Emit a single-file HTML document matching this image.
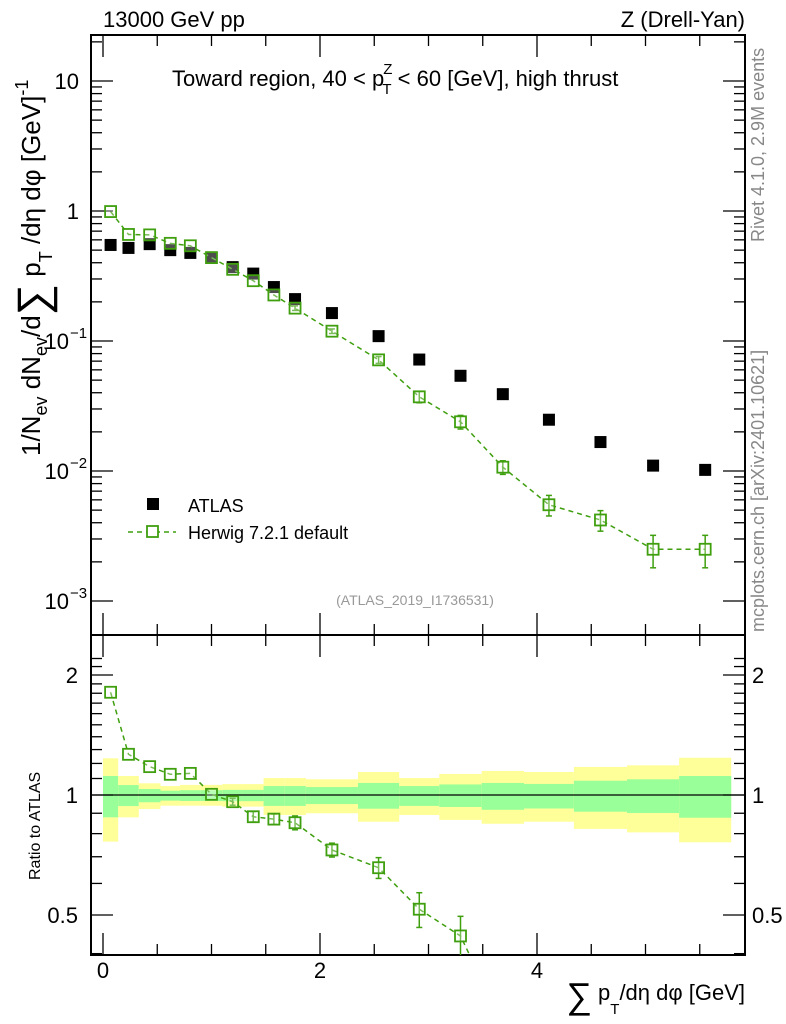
<!DOCTYPE html>
<html><head><meta charset="utf-8"><style>
body{margin:0;background:#fff;}
svg{display:block;font-family:"Liberation Sans",sans-serif;}
</style></head><body>
<svg id="c" width="786" height="1024" xmlns="http://www.w3.org/2000/svg"></svg>
<script>
const binEdges=[0,0.14,0.33,0.53,0.71,0.9,1.1,1.29,1.48,1.67,1.87,2.35,2.73,3.1,3.49,3.88,4.34,4.83,5.31,5.79];
const atlasVals=[0.548,0.52,0.556,0.50,0.476,0.436,0.37,0.33,0.26,0.21,0.164,0.109,0.072,0.054,0.039,0.0248,0.0167,0.011,0.0102];
const herwigVals=[0.99,0.66,0.655,0.564,0.54,0.438,0.356,0.291,0.226,0.179,0.119,0.0716,0.0372,0.0239,0.0107,0.0055,0.0042,0.0025,0.0025];
const herwigRelErr=[0.01,0.01,0.01,0.01,0.01,0.01,0.02,0.03,0.03,0.04,0.04,0.06,0.1,0.12,0.12,0.18,0.18,0.28,0.28];
const ratioVals=[1.81,1.265,1.178,1.127,1.133,1.004,0.962,0.882,0.87,0.852,0.728,0.657,0.517,0.443];
const yellowHi=[1.236,1.116,1.07,1.053,1.06,1.06,1.065,1.065,1.103,1.103,1.095,1.142,1.103,1.129,1.149,1.142,1.176,1.187,1.24];
const yellowLo=[0.764,0.879,0.922,0.94,0.94,0.94,0.935,0.935,0.891,0.891,0.9,0.857,0.891,0.866,0.847,0.857,0.822,0.806,0.761];
const greenHi=[1.116,1.059,1.035,1.025,1.028,1.028,1.03,1.03,1.053,1.053,1.047,1.072,1.053,1.063,1.072,1.066,1.086,1.095,1.116];
const greenLo=[0.879,0.938,0.959,0.968,0.966,0.966,0.965,0.965,0.939,0.939,0.949,0.924,0.939,0.933,0.918,0.925,0.908,0.901,0.877];
const xTickLabels=["0","2","4"];

const svg=document.getElementById('c');
const NS="http://www.w3.org/2000/svg";
function el(tag,attrs,parent){const e=document.createElementNS(NS,tag);for(const k in attrs)e.setAttribute(k,attrs[k]);(parent||svg).appendChild(e);return e;}
const L=91,R=745,T=35,MB=635,RB=955;
const X=v=>103+v*108.5;
const Y=v=>211-130*Math.log10(v);
const YR=v=>795-120*Math.log2(v);
const mids=binEdges.slice(0,-1).map((e,i)=>(e+binEdges[i+1])/2);

const bands=el('g',{});


for(let i=0;i<yellowHi.length;i++){
  const r=el('rect',{x:X(binEdges[i]),y:YR(yellowHi[i]),width:X(binEdges[i+1])-X(binEdges[i]),height:YR(yellowLo[i])-YR(yellowHi[i]),fill:'#ffff99'},bands);
  
  
  const g=el('rect',{x:X(binEdges[i]),y:YR(greenHi[i]),width:X(binEdges[i+1])-X(binEdges[i]),height:YR(greenLo[i])-YR(greenHi[i]),fill:'#99ff99'},bands);
  
  
}
el('line',{x1:L,x2:R,y1:YR(1),y2:YR(1),stroke:'#000','stroke-width':1.3});

const f1=el('rect',{x:L,y:T,width:R-L,height:MB-T,fill:'none',stroke:'#000','stroke-width':2});

const f2=el('rect',{x:L,y:MB,width:R-L,height:RB-MB,fill:'none',stroke:'#000','stroke-width':2});


for(let d=-3;d<=1;d++){
  for(let m=1;m<10;m++){
    const v=m*Math.pow(10,d);const y=Y(v);
    if(y<T||y>MB)continue;
    const len=m==1?22:11;
    el('line',{x1:L,x2:L+len,y1:y,y2:y,stroke:'#000','stroke-width':1.3});
    el('line',{x1:R,x2:R-len,y1:y,y2:y,stroke:'#000','stroke-width':1.3});
  }
}
[[10,"10",null],[1,"1",null],[0.1,"10","−1"],[0.01,"10","−2"],[0.001,"10","−3"]].forEach(([v,t,e])=>{
  const tx=el('text',{x:e?69:79,y:Y(v)+8,'font-size':22,'text-anchor':'end'});
  tx.textContent=t;
  
  if(e){const s=el('text',{x:70,y:Y(v)-3,'font-size':15});s.textContent=e;}
});
for(let v=0.4;v<=2.3;v+=0.1){
  const y=YR(v);if(y<MB||y>RB)continue;
  const major=Math.abs(v-0.5)<1e-6||Math.abs(v-1)<1e-6||Math.abs(v-2)<1e-6;
  const len=major?22:11;
  el('line',{x1:L,x2:L+len,y1:y,y2:y,stroke:'#000','stroke-width':1.3});
  el('line',{x1:R,x2:R-len,y1:y,y2:y,stroke:'#000','stroke-width':1.3});
}
[[2,"2"],[1,"1"],[0.5,"0.5"]].forEach(([v,t])=>{
  const a=el('text',{x:78,y:YR(v)+8,'font-size':22,'text-anchor':'end'});a.textContent=t;
  
  const b=el('text',{x:752,y:YR(v)+8,'font-size':22});b.textContent=t;
  
});
for(let v=0;v<=5.9;v+=0.5){
  const x=X(v);const major=Math.abs(v%2)<1e-6;const len=major?22:11;
  [[MB,1],[T,-1],[RB,1],[MB,-1]].forEach(([yb,dir])=>{
    el('line',{x1:x,x2:x,y1:yb,y2:yb-dir*len,stroke:'#000','stroke-width':1.3});
  });
}
xTickLabels.forEach((t,i)=>{
  const tx=el('text',{x:X(i*2),y:978,'font-size':22,'text-anchor':'middle'});tx.textContent=t;
  
});

atlasVals.forEach((v,i)=>{
  const r=el('rect',{x:X(mids[i])-6,y:Y(v)-6,width:12,height:12,fill:'#000'});
  
});
const G='#3f9f0f';
el('polyline',{points:herwigVals.map((v,i)=>X(mids[i])+','+Y(v)).join(' '),fill:'none',stroke:G,'stroke-width':1.5,'stroke-dasharray':'5,4'});
herwigVals.forEach((v,i)=>{
  const x=X(mids[i]),y=Y(v);
  const e=herwigRelErr[i];
  if(e>0.03){el('line',{x1:x,x2:x,y1:Y(v*(1+e)),y2:Y(v*(1-e)),stroke:G,'stroke-width':1.5});
   el('line',{x1:x-3,x2:x+3,y1:Y(v*(1+e)),y2:Y(v*(1+e)),stroke:G,'stroke-width':1.5});
   el('line',{x1:x-3,x2:x+3,y1:Y(v*(1-e)),y2:Y(v*(1-e)),stroke:G,'stroke-width':1.5});}
  const r=el('rect',{x:x-5.5,y:y-5.5,width:11,height:11,fill:'#fff','fill-opacity':0.3,stroke:G,'stroke-width':1.8});
  
});
const rp=ratioVals.map((v,i)=>X(mids[i])+','+YR(v));
rp.push(X(mids[14])+','+YR(ratioVals[13]*0.6));
const cp=el('clipPath',{id:'rc'});el('rect',{x:L,y:MB,width:R-L,height:RB-MB},cp);
const rg=el('g',{'clip-path':'url(#rc)'});
el('polyline',{points:rp.join(' '),fill:'none',stroke:G,'stroke-width':1.5,'stroke-dasharray':'5,4'},rg);
ratioVals.forEach((v,i)=>{
  const x=X(mids[i]),y=YR(v);const e=herwigRelErr[i];
  if(e>0.015){el('line',{x1:x,x2:x,y1:YR(v*(1+e)),y2:YR(v*(1-e)),stroke:G,'stroke-width':1.5},rg);
   el('line',{x1:x-3,x2:x+3,y1:YR(v*(1+e)),y2:YR(v*(1+e)),stroke:G,'stroke-width':1.5},rg);
   el('line',{x1:x-3,x2:x+3,y1:YR(v*(1-e)),y2:YR(v*(1-e)),stroke:G,'stroke-width':1.5},rg);}
  const r=el('rect',{x:x-5.5,y:y-5.5,width:11,height:11,fill:'#fff','fill-opacity':0.3,stroke:G,'stroke-width':1.8},rg);
  
});
</script>
<svg width="786" height="1024" style="position:absolute;left:0;top:0" xmlns="http://www.w3.org/2000/svg">
<g font-family="Liberation Sans, sans-serif">
<text x="103" y="27" font-size="22">13000 GeV pp</text>
<text x="745" y="27" font-size="22" text-anchor="end">Z (Drell-Yan)</text>
<text x="172" y="86" font-size="22">Toward region, 40 &lt; p<tspan font-size="15" dy="-12" dx="-1">Z</tspan><tspan font-size="15" dy="20" dx="-10">T</tspan><tspan dy="-8"> &lt; 60 [GeV], high thrust</tspan></text>
<g>
<rect x="147" y="498" width="12" height="12" fill="#000"/>
<text x="188" y="512" font-size="18">ATLAS</text>
<line x1="128" x2="176" y1="532" y2="532" stroke="#3f9f0f" stroke-width="1.5" stroke-dasharray="5,4"/>
<rect x="147" y="526" width="11" height="11" fill="#fff" stroke="#3f9f0f" stroke-width="1.8"/>
<text x="188" y="539" font-size="18">Herwig 7.2.1 default</text>
</g>
<text x="415" y="605" font-size="14" fill="#999" text-anchor="middle">(ATLAS_2019_I1736531)</text>
<text transform="translate(764,242) rotate(-90)" font-size="18" fill="#888">Rivet 4.1.0,  2.9M events</text>
<text transform="translate(764,632) rotate(-90)" font-size="18" fill="#888">mcplots.cern.ch [arXiv:2401.10621]</text>
<text transform="translate(40,456) rotate(-90)" font-size="26">1/N<tspan font-size="18" dy="7">ev</tspan><tspan dy="-7"> dN</tspan><tspan font-size="18" dy="7">ev</tspan><tspan dy="-7">/d</tspan><tspan font-size="44" dy="8">∑</tspan><tspan dy="-8"> p</tspan><tspan font-size="18" dy="12">T</tspan><tspan dy="-12"> /dη dφ  [GeV]</tspan><tspan font-size="18" dy="-12">-1</tspan></text>
<text transform="translate(40,880) rotate(-90)" font-size="16">Ratio to ATLAS</text>
<text x="745" y="1000" font-size="22" text-anchor="end"><tspan font-size="36" dy="8">∑</tspan><tspan dy="-8"> p</tspan><tspan font-size="15" dy="14">T</tspan><tspan dy="-14">/dη dφ [GeV]</tspan></text>
</g></svg>
</body></html>
